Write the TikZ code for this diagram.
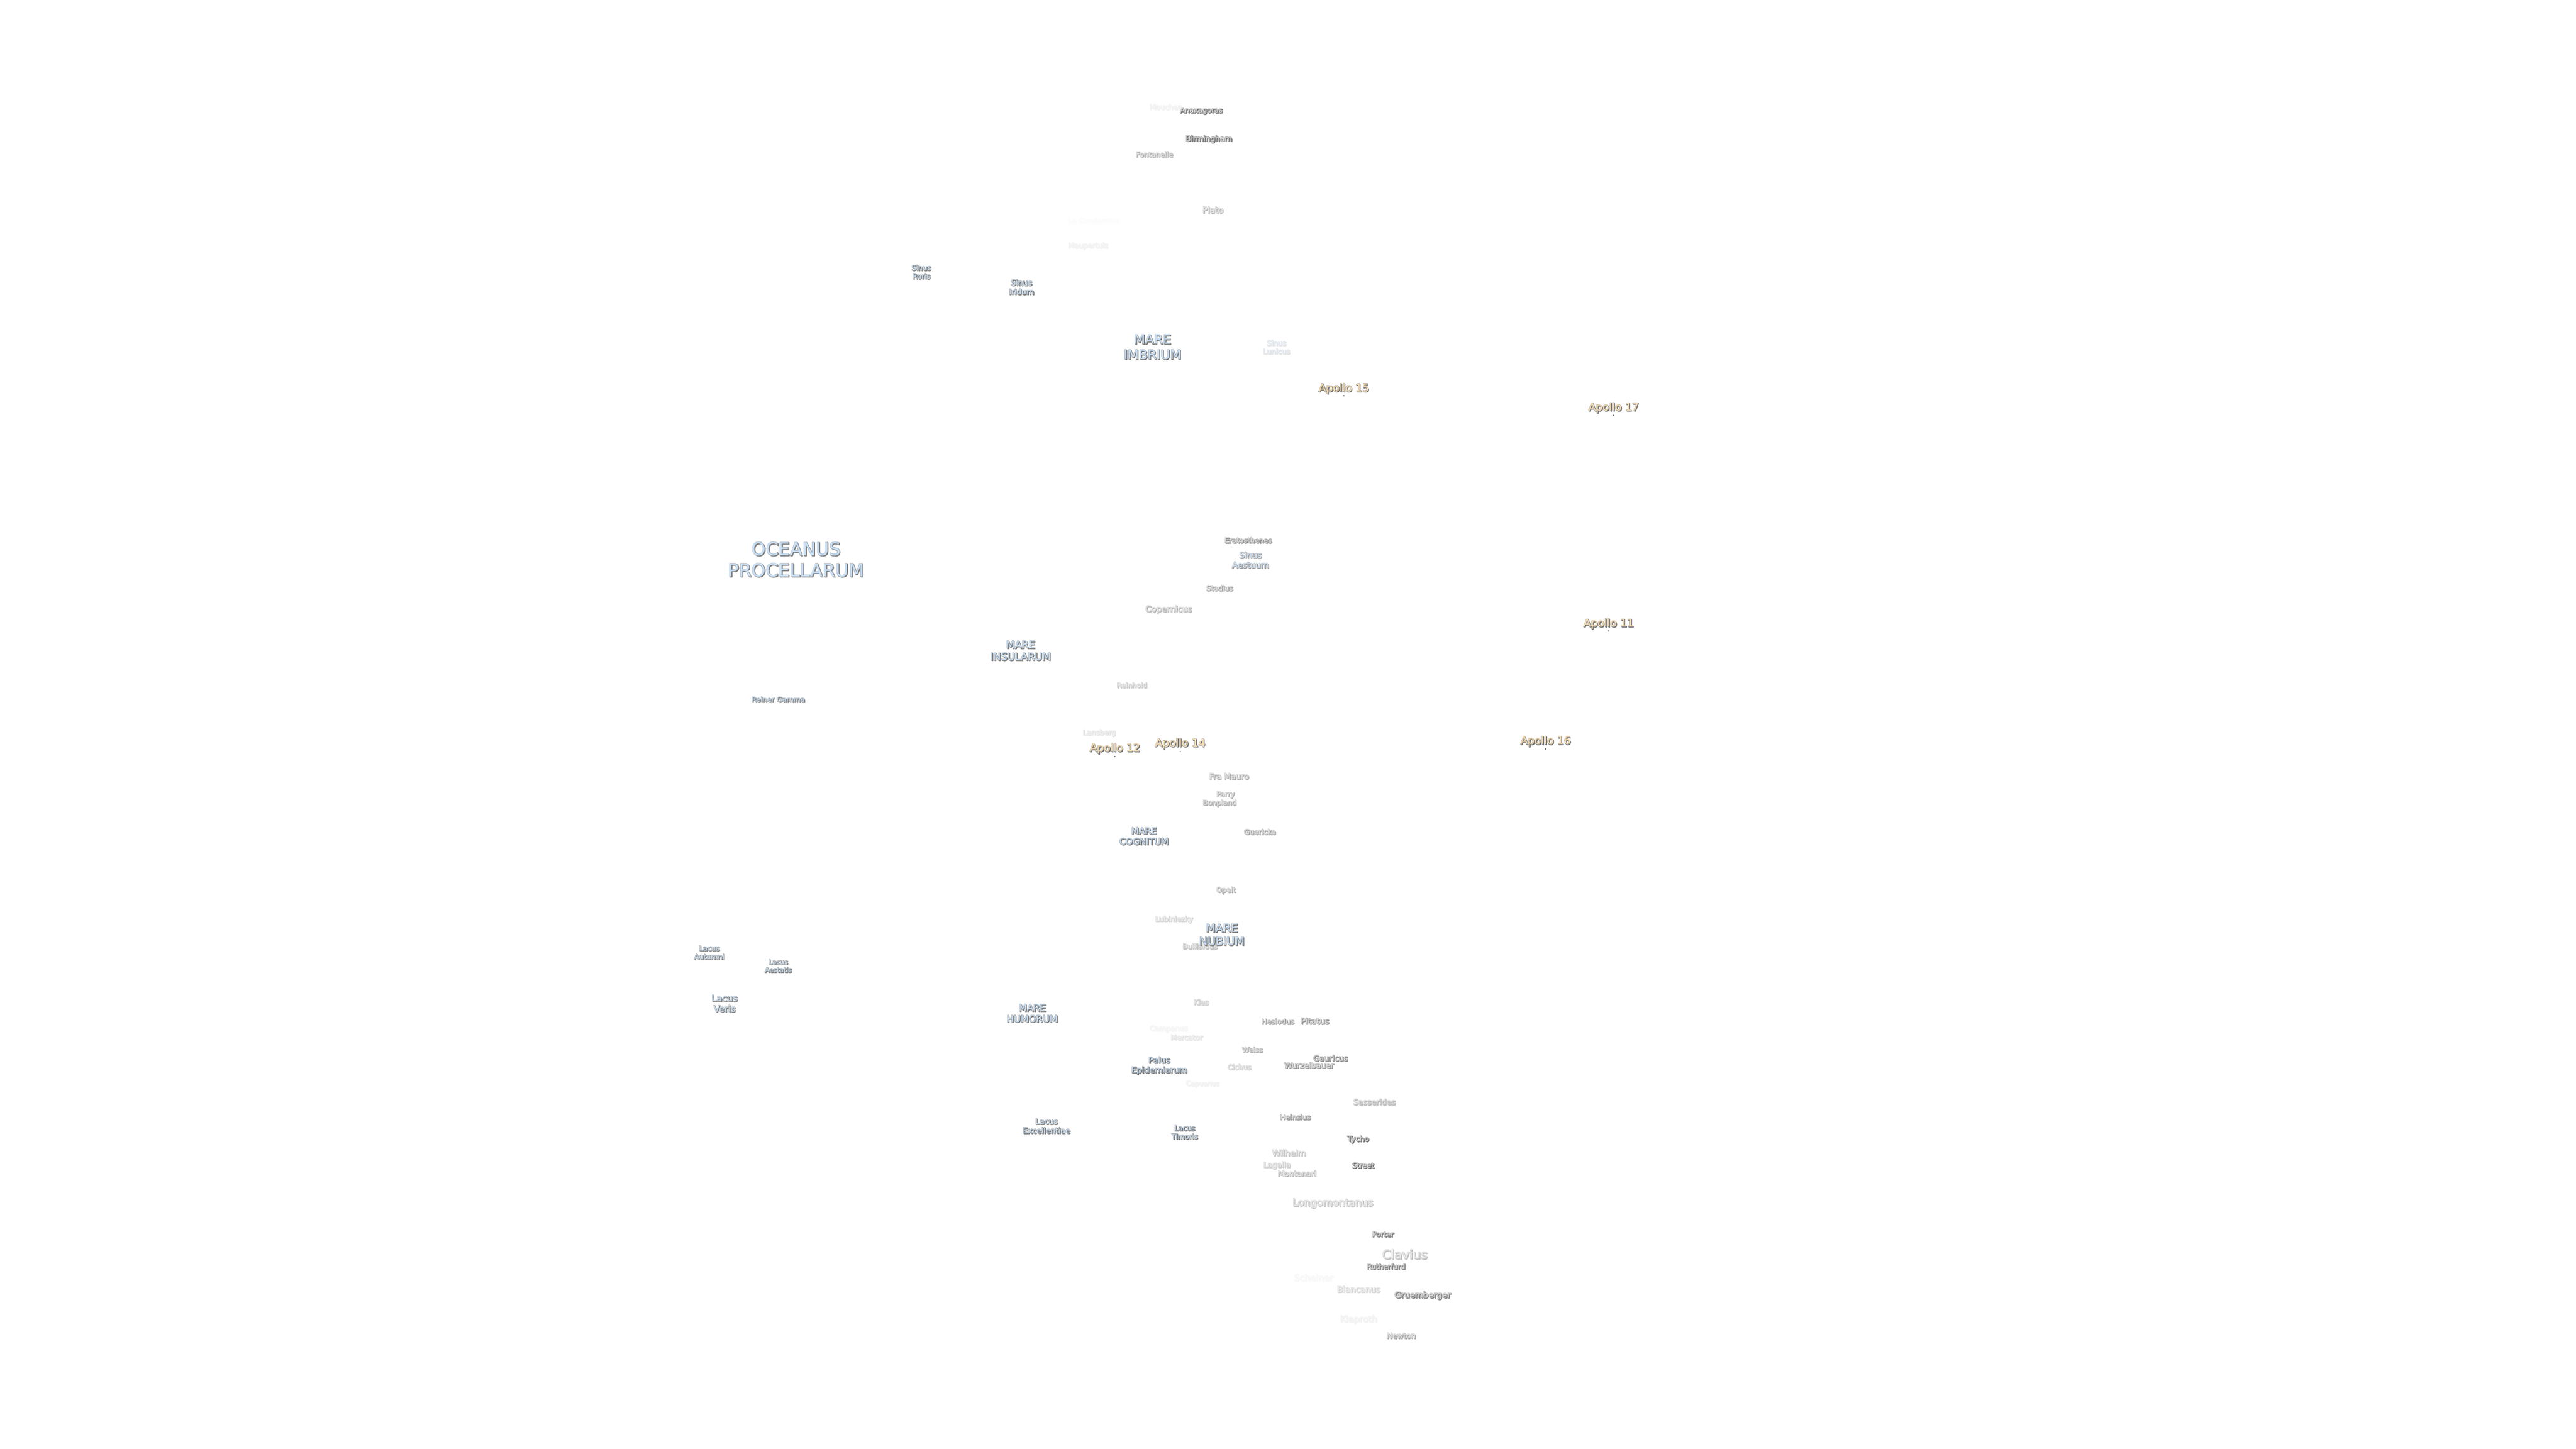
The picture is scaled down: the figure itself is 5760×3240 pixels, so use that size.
\documentclass[tikz,border=0pt]{standalone}
\usepackage{fontspec}
\setmainfont{DejaVu Sans}
\newcommand{\blendc}[2]{\fpeval{round(1-(1-#1)*#2,4)}}
\newcommand{\txtpaint}[6]{\special{pdf:code 2 Tr \fpeval{#5*0.25} w \blendc{#4}{#6} \blendc{#4}{#6} \blendc{#4}{#6} RG \blendc{#1}{#6} \blendc{#2}{#6} \blendc{#3}{#6} rg}}
\newcommand{\fillpaint}[4]{\special{pdf:code 0 Tr \blendc{#1}{sqrt(#4)} \blendc{#2}{sqrt(#4)} \blendc{#3}{sqrt(#4)} rg}}
\newcommand{\txtend}{\special{pdf:code 0 Tr}}
\newcommand{\lblfont}[1]{\fontsize{\fpeval{#1*0.25}pt}{\fpeval{#1*0.25*1.17}pt}\selectfont}
\tikzset{
  x=0.25pt,y=-0.25pt,
  lbl/.style={inner sep=0pt,outer sep=0pt,align=center},
  site/.style={circle,inner sep=0pt,minimum size=0.8pt,fill=black!65},
}
% \place{name}{x}{y}{size px}{alpha}{r}{g}{b}{text}
\newcommand{\place}[9]{%
  \node[lbl,font={\lblfont{#4}}] (#1s) at (\fpeval{#2+1.4},\fpeval{#3+1.4}) {\txtpaint{0.4}{0.4}{0.4}{0.4}{1.2}{#5}#9\txtend};
  \node[lbl,font={\lblfont{#4}}] (#1h) at (#2,#3) {\txtpaint{0.58}{0.58}{0.58}{0.58}{1.6}{#5}#9\txtend};
  \node[lbl,font={\lblfont{#4}}] (#1) at (#2,#3) {\fillpaint{#6}{#7}{#8}{#5}#9\txtend};
}
\newcommand{\craterfill}{{0.87}{0.87}{0.87}}
\begin{document}
\begin{tikzpicture}
\useasboundingbox (0,0) rectangle (5760,3240);
\fill[white] (0,0) rectangle (5760,3240);
\place{mouchez}{2606}{239}{16}{0.1}{0.87}{0.87}{0.87}{Mouchez}
\place{anax}{2686}{248}{16}{1}{0.87}{0.87}{0.87}{Anaxagoras}
\place{birm}{2703}{311}{17}{1}{0.87}{0.87}{0.87}{Birmingham}
\place{font}{2581}{345}{16}{0.55}{0.87}{0.87}{0.87}{Fontanelle}
\place{plato}{2712}{469}{18.7}{0.5}{0.87}{0.87}{0.87}{Plato}
\place{lacond}{2446}{494}{16}{0.015}{0.87}{0.87}{0.87}{La Condamine}
\place{maup}{2433}{550}{16}{0.1}{0.87}{0.87}{0.87}{Maupertuis}
\place{sroris}{2060}{608}{16}{0.9}{0.78}{0.88}{0.98}{Sinus\\Roris}
\place{siridum}{2284}{642}{17.4}{0.95}{0.78}{0.88}{0.98}{Sinus\\Iridum}
\place{mimbrium}{2577}{776}{29}{0.95}{0.78}{0.88}{0.98}{MARE\\IMBRIUM}
\place{slunicus}{2854}{776}{16}{0.2}{0.78}{0.88}{0.98}{Sinus\\Lunicus}
\place{ocean}{1780}{1251}{40.5}{0.95}{0.78}{0.88}{0.98}{OCEANUS\\PROCELLARUM}
\place{erato}{2791}{1208}{16}{0.85}{0.87}{0.87}{0.87}{Eratosthenes}
\place{saest}{2796}{1252}{18.6}{0.7}{0.78}{0.88}{0.98}{Sinus\\Aestuum}
\place{stad}{2727}{1315}{16}{0.7}{0.87}{0.87}{0.87}{Stadius}
\place{copern}{2613}{1363}{18.7}{0.5}{0.87}{0.87}{0.87}{Copernicus}
\place{minsul}{2282}{1455}{22.7}{0.95}{0.78}{0.88}{0.98}{MARE\\INSULARUM}
\place{reinhold}{2531}{1532}{15.7}{0.35}{0.87}{0.87}{0.87}{Reinhold}
\place{reiner}{1740}{1564}{16}{0.85}{0.78}{0.88}{0.98}{Reiner Gamma}
\place{lansberg}{2458}{1639}{16}{0.2}{0.87}{0.87}{0.87}{Lansberg}
\place{fra}{2748}{1736}{18}{0.55}{0.87}{0.87}{0.87}{Fra Mauro}
\place{parry}{2740}{1777}{15.8}{0.55}{0.87}{0.87}{0.87}{Parry}
\place{bonpland}{2727}{1796}{15.8}{0.55}{0.87}{0.87}{0.87}{Bonpland}
\place{mcogn}{2558}{1870}{20}{0.95}{0.78}{0.88}{0.98}{MARE\\COGNITUM}
\place{guer}{2817}{1860}{16}{0.65}{0.87}{0.87}{0.87}{Guericke}
\place{opelt}{2741}{1991}{16}{0.55}{0.87}{0.87}{0.87}{Opelt}
\place{lub}{2625}{2056}{16}{0.3}{0.87}{0.87}{0.87}{Lubiniezky}
\place{bull}{2683}{2116}{16}{0.45}{0.87}{0.87}{0.87}{Bullialdus}
\place{mnub}{2732}{2090}{25}{0.95}{0.78}{0.88}{0.98}{MARE\\NUBIUM}
\place{lautum}{1586}{2130}{16}{0.85}{0.78}{0.88}{0.98}{Lacus\\Autumni}
\place{laest}{1740}{2160}{15}{0.85}{0.78}{0.88}{0.98}{Lacus\\Aestatis}
\place{lveris}{1620}{2244}{20}{0.85}{0.78}{0.88}{0.98}{Lacus\\Veris}
\place{mhum}{2308}{2266}{21}{0.95}{0.78}{0.88}{0.98}{MARE\\HUMORUM}
\place{lexc}{2340}{2518}{17.4}{0.9}{0.78}{0.88}{0.98}{Lacus\\Excellentiae}
\place{kies}{2685}{2241}{16}{0.35}{0.87}{0.87}{0.87}{Kies}
\place{hes}{2857}{2284}{16}{0.7}{0.87}{0.87}{0.87}{Hesiodus}
\place{pit}{2940}{2283}{18.6}{0.75}{0.87}{0.87}{0.87}{Pitatus}
\place{camp}{2613}{2301}{16}{0.07}{0.87}{0.87}{0.87}{Campanus}
\place{merc}{2653}{2320}{16}{0.2}{0.87}{0.87}{0.87}{Mercator}
\place{weiss}{2800}{2347}{16}{0.55}{0.87}{0.87}{0.87}{Weiss}
\place{gaur}{2975}{2366}{17.5}{0.8}{0.87}{0.87}{0.87}{Gauricus}
\place{wurz}{2927}{2382}{17.5}{0.75}{0.87}{0.87}{0.87}{Wurzelbauer}
\place{palus}{2592}{2383}{18.7}{0.95}{0.78}{0.88}{0.98}{Palus\\Epidemiarum}
\place{cich}{2771}{2386}{16}{0.35}{0.87}{0.87}{0.87}{Cichus}
\place{capu}{2689}{2424}{15}{0.1}{0.87}{0.87}{0.87}{Capuanus}
\place{sass}{3073}{2464}{17.5}{0.5}{0.87}{0.87}{0.87}{Sasserides}
\place{heins}{2896}{2498}{16}{0.7}{0.87}{0.87}{0.87}{Heinsius}
\place{ltim}{2649}{2532}{16}{0.95}{0.78}{0.88}{0.98}{Lacus\\Timoris}
\place{tycho}{3037}{2548}{17}{0.95}{0.87}{0.87}{0.87}{Tycho}
\place{wilh}{2882}{2578}{18.7}{0.4}{0.87}{0.87}{0.87}{Wilhelm}
\place{lagalla}{2855}{2606}{17}{0.35}{0.87}{0.87}{0.87}{Lagalla}
\place{street}{3048}{2606}{16}{1}{0.87}{0.87}{0.87}{Street}
\place{mont}{2900}{2624}{17}{0.5}{0.87}{0.87}{0.87}{Montanari}
\place{longo}{2980}{2691}{22.4}{0.4}{0.87}{0.87}{0.87}{Longomontanus}
\place{porter}{3092}{2760}{16}{0.9}{0.87}{0.87}{0.87}{Porter}
\place{clav}{3141}{2805}{28}{0.45}{0.87}{0.87}{0.87}{Clavius}
\place{ruth}{3099}{2832}{16}{0.85}{0.87}{0.87}{0.87}{Rutherfurd}
\place{schein}{2937}{2857}{20}{0.05}{0.87}{0.87}{0.87}{Scheiner}
\place{blanc}{3038}{2883}{18.7}{0.3}{0.87}{0.87}{0.87}{Blancanus}
\place{gruem}{3181}{2897}{18.7}{0.85}{0.87}{0.87}{0.87}{Gruemberger}
\place{klap}{3038}{2951}{19.7}{0.1}{0.87}{0.87}{0.87}{Klaproth}
\place{newton}{3133}{2987}{17}{0.6}{0.87}{0.87}{0.87}{Newton}
\place{ap12}{2493}{1674}{24}{1}{1}{0.88}{0.68}{Apollo 12}
\place{ap14}{2639}{1663}{24}{1}{1}{0.88}{0.68}{Apollo 14}
\place{ap16}{3456}{1658}{24}{1}{1}{0.88}{0.68}{Apollo 16}
\place{ap15}{3005}{869}{24}{1}{1}{0.88}{0.68}{Apollo 15}
\place{ap17}{3608}{912}{24}{1}{1}{0.88}{0.68}{Apollo 17}
\place{ap11}{3597}{1395}{24}{1}{1}{0.88}{0.68}{Apollo 11}
\node[site] (d12) at (2493,1692) {};
\node[site] (d14) at (2639,1681) {};
\node[site] (d16) at (3456,1675) {};
\node[site] (d15) at (3005,885) {};
\node[site] (d17) at (3608,929) {};
\node[site] (d11) at (3597,1411) {};
\end{tikzpicture}
\end{document}
